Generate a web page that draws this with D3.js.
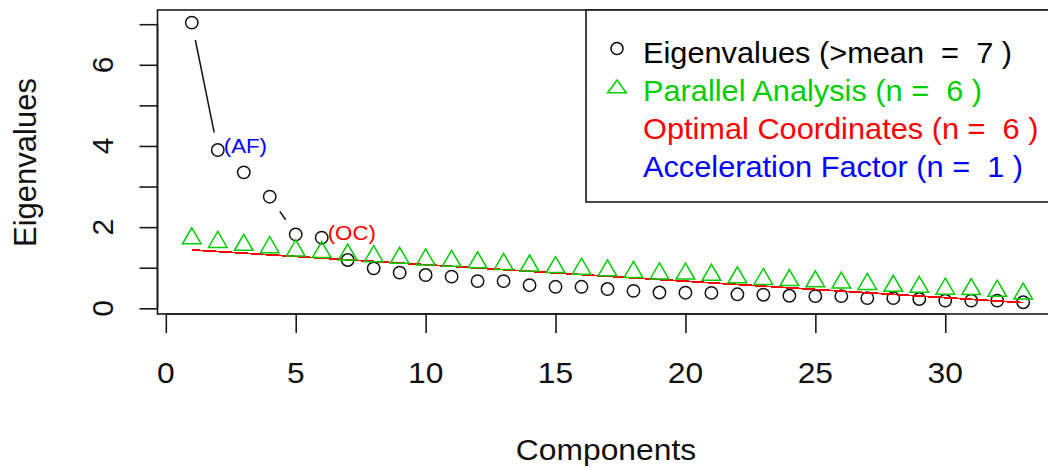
<!DOCTYPE html>
<html>
<head>
<meta charset="utf-8">
<script src="https://cdn.jsdelivr.net/npm/d3@7"></script>
<style>
  html, body { margin: 0; padding: 0; background: #fff; }
  svg { display: block; }
  text { font-family: "Liberation Sans", Arial, sans-serif; white-space: pre; }
</style>
</head>
<body>
<svg id="chart" width="1048" height="467"></svg>
<script>
// ---- data ----
const components = [1,2,3,4,5,6,7,8,9,10,11,12,13,14,15,16,17,18,19,20,21,22,23,24,25,26,27,28,29,30,31,32,33];
const eigenvalues = [7.04,3.90,3.35,2.75,1.82,1.74,1.19,0.985,0.88,0.82,0.78,0.67,0.67,0.57,0.53,0.53,0.475,0.43,0.39,0.385,0.38,0.345,0.335,0.31,0.30,0.30,0.25,0.25,0.23,0.19,0.19,0.19,0.15];
const parallel = [1.72,1.63,1.56,1.50,1.42,1.38,1.32,1.28,1.24,1.20,1.165,1.13,1.09,1.05,1.01,0.97,0.93,0.89,0.855,0.85,0.82,0.76,0.72,0.69,0.66,0.63,0.595,0.55,0.525,0.48,0.47,0.43,0.36];
const ocLineX = [1, 33];
const ocLineY = [1.44, 0.14];
const xTicks = [0,5,10,15,20,25,30];
const yTicks = [0,1,2,3,4,5,6,7];
const yTickLabels = [0,2,4,6];
const legendLabels = ["Eigenvalues (>mean  =  7 )", "Parallel Analysis (n =  6 )", "Optimal Coordinates (n =  6 )", "Acceleration Factor (n =  1 )"];
const legendColors = ["#000000", "#00CD00", "#FF0000", "#0000FF"];
const legendSymbols = ["circle", "triangle", null, null];
const annotations = [{label: "(AF)", comp: 2, color: "#0000FF"}, {label: "(OC)", comp: 6, color: "#FF0000"}];
const xLabel = "Components";
const yLabel = "Eigenvalues";

// ---- layout ----
const svg = d3.select("#chart");
const x = d3.scaleLinear().domain([-0.32, 34.32]).range([157.5, 1057.5]);
const y = d3.scaleLinear().domain([-0.14, 7.35]).range([314, 10]);
const SX = 1.06; // horizontal text stretch
const lineCol = "#1a1a1a";

function htext(g, tx, ty, str, size, color, anchor) {
  return g.append("text")
    .attr("transform", `translate(${tx},${ty}) scale(${SX},1)`)
    .attr("font-size", size)
    .attr("fill", color)
    .attr("text-anchor", anchor || "start")
    .text(str);
}

function triPath(hw, up, down) {
  return `M0,${-up}L${hw},${down}L${-hw},${down}Z`;
}

// box
svg.append("rect")
  .attr("x", x.range()[0]).attr("y", y.range()[1])
  .attr("width", x.range()[1] - x.range()[0])
  .attr("height", y.range()[0] - y.range()[1])
  .attr("fill", "none").attr("stroke", lineCol).attr("stroke-width", 1.6);

// x axis
const xAxis = d3.axisBottom(x).tickValues(xTicks).tickSize(19).tickFormat("");
const gx = svg.append("g").attr("transform", `translate(0,${y.range()[0]})`).call(xAxis);
gx.select(".domain").attr("d", `M${x(xTicks[0])},0H${x(xTicks[xTicks.length-1])}`).attr("stroke", lineCol).attr("stroke-width", 1.6);
gx.selectAll(".tick line").attr("stroke", lineCol).attr("stroke-width", 1.6);
xTicks.forEach(t => htext(svg, x(t), 383, String(t), 30, "#111", "middle"));

// y axis
const yAxis = d3.axisLeft(y).tickValues(yTicks).tickSize(18).tickFormat("");
const gy = svg.append("g").attr("transform", `translate(${x.range()[0]},0)`).call(yAxis);
gy.select(".domain").attr("d", `M0,${y(yTicks[0])}V${y(yTicks[yTicks.length-1])}`).attr("stroke", lineCol).attr("stroke-width", 1.6);
gy.selectAll(".tick line").attr("stroke", lineCol).attr("stroke-width", 1.6);
yTickLabels.forEach(t => {
  svg.append("text")
    .attr("transform", `translate(113,${y(t)}) rotate(-90)`)
    .attr("font-size", 30).attr("fill", "#111").attr("text-anchor", "middle")
    .text(String(t));
});

// axis titles
htext(svg, 606, 460, xLabel, 30, "#111", "middle");
svg.append("text")
  .attr("transform", `translate(36,${162.5}) rotate(-90)`)
  .attr("font-size", 31).attr("fill", "#111").attr("text-anchor", "middle")
  .text(yLabel);

// type "b" line helper: segments with gaps around points
function typeBLines(vals, color) {
  const gap = 17.8;
  const g = svg.append("g");
  for (let i = 0; i < vals.length - 1; i++) {
    const x0 = x(components[i]), y0 = y(vals[i]);
    const x1 = x(components[i+1]), y1 = y(vals[i+1]);
    const d = Math.hypot(x1 - x0, y1 - y0);
    if (d > 2 * gap) {
      const f = gap / d;
      g.append("line")
        .attr("x1", x0 + (x1 - x0) * f).attr("y1", y0 + (y1 - y0) * f)
        .attr("x2", x1 - (x1 - x0) * f).attr("y2", y1 - (y1 - y0) * f)
        .attr("stroke", color).attr("stroke-width", 1.5);
    }
  }
}

// eigenvalues
typeBLines(eigenvalues, "#111");
svg.append("g").selectAll("circle").data(eigenvalues).join("circle")
  .attr("cx", (d, i) => x(components[i])).attr("cy", d => y(d))
  .attr("r", 6.2).attr("fill", "none").attr("stroke", "#111").attr("stroke-width", 1.5);

// OC line (red)
svg.append("line")
  .attr("x1", x(ocLineX[0])).attr("y1", y(ocLineY[0]))
  .attr("x2", x(ocLineX[1])).attr("y2", y(ocLineY[1]))
  .attr("stroke", "#FF0000").attr("stroke-width", 1.8)
  .attr("shape-rendering", "crispEdges");

// parallel analysis
typeBLines(parallel, "#00CD00");
svg.append("g").selectAll("path").data(parallel).join("path")
  .attr("transform", (d, i) => `translate(${x(components[i])},${y(d)})`)
  .attr("d", triPath(9.3, 10.7, 5.3))
  .attr("fill", "none").attr("stroke", "#00CD00").attr("stroke-width", 1.5);

// annotations
annotations.forEach(a => {
  htext(svg, x(a.comp) + 6, y(eigenvalues[a.comp - 1]) + 2.5, a.label, 21, a.color, "start");
});

// legend
svg.append("rect")
  .attr("x", 586).attr("y", y.range()[1])
  .attr("width", 480).attr("height", 202 - y.range()[1])
  .attr("fill", "#fff").attr("stroke", lineCol).attr("stroke-width", 1.6);
legendLabels.forEach((lab, i) => {
  const base = 62.5 + i * 38;
  htext(svg, 643, base, lab, 29, legendColors[i], "start");
  const cy = base - 14;
  if (legendSymbols[i] === "circle") {
    svg.append("circle").attr("cx", 617).attr("cy", cy).attr("r", 6)
      .attr("fill", "none").attr("stroke", legendColors[i]).attr("stroke-width", 1.5);
  } else if (legendSymbols[i] === "triangle") {
    svg.append("path").attr("transform", `translate(617,${cy + 2})`)
      .attr("d", triPath(9.3, 8.5, 4.2))
      .attr("fill", "none").attr("stroke", legendColors[i]).attr("stroke-width", 1.5);
  }
});
</script>
</body>
</html>
